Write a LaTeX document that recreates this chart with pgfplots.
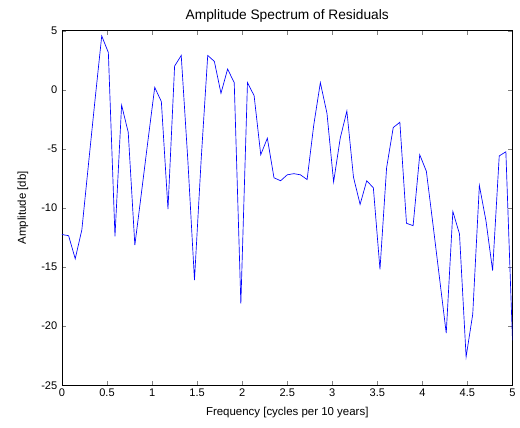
\documentclass[border=0pt]{standalone}
\usepackage{pgfplots}
\pgfplotsset{compat=1.18}
\usepackage{fontspec}
\setmainfont{Liberation Sans}

\pgfplotstableread{
x y
0 -12.25
0.0735 -12.35
0.1471 -14.3
0.2206 -11.85
0.2941 -6.3
0.3676 -0.8
0.4412 4.55
0.5147 3.15
0.5882 -12.4
0.6618 -1.3
0.7353 -3.6
0.8088 -13.15
0.8824 -8.7
0.9559 -4.2
1.0294 0.2
1.1029 -1.0
1.1765 -10.1
1.25 2.0
1.3235 2.9
1.3971 -6.0
1.4706 -16.1
1.5441 -6.0
1.6176 2.9
1.6912 2.4
1.7647 -0.3
1.8382 1.75
1.9118 0.6
1.9853 -18.1
2.0588 0.6
2.1324 -0.5
2.2059 -5.5
2.2794 -4.1
2.3529 -7.45
2.4265 -7.7
2.5 -7.2
2.5735 -7.1
2.6471 -7.2
2.7206 -7.6
2.7941 -3.0
2.8676 0.6
2.9412 -2.0
3.0147 -7.8
3.0882 -4.1
3.1618 -1.8
3.2353 -7.4
3.3088 -9.7
3.3824 -7.7
3.4559 -8.3
3.5294 -15.2
3.6029 -6.6
3.6765 -3.2
3.75 -2.75
3.8235 -11.3
3.8971 -11.5
3.9706 -5.5
4.0441 -6.9
4.1176 -11.4
4.1912 -16.0
4.2647 -20.6
4.3382 -10.3
4.4118 -12.2
4.4853 -22.6
4.5588 -19.0
4.6324 -8.1
4.7059 -11.1
4.7794 -15.3
4.8529 -5.6
4.9265 -5.25
5 -21.2
}\spectrum

\begin{document}
\begin{tikzpicture}[font=\fontsize{8.3}{10}\selectfont]
\begin{axis}[
  scale only axis,
  width=338pt, height=266pt,
  xmin=0, xmax=5, ymin=-25, ymax=5,
  xtick={0,0.5,...,5}, ytick={-25,-20,...,5},
  xticklabels={0,0.5,1,1.5,2,2.5,3,3.5,4,4.5,5},
  tick align=inside, major tick length=3pt,
  tick pos=both,
  axis line style={line width=0.5pt},
  /pgf/number format/assume math mode=true,
  title={Amplitude Spectrum of Residuals},
  title style={yshift=-3pt, font=\fontsize{10.3}{12}\selectfont},
  xlabel={Frequency [cycles per 10 years]},
  ylabel={Amplitude [db]},
  xlabel style={yshift=-1.5pt, font=\fontsize{8.6}{10}\selectfont},
  ylabel style={yshift=3pt, font=\fontsize{8.6}{10}\selectfont},
  xticklabel style={yshift=1pt},
]
\addplot[blue, line width=0.5pt, mark=none] table[x=x, y=y] {\spectrum};
\end{axis}
\path ([xshift=-46.5pt, yshift=-31.5pt]current axis.south west)
  rectangle ([xshift=5.25pt, yshift=23pt]current axis.north east);
\end{tikzpicture}
\end{document}
